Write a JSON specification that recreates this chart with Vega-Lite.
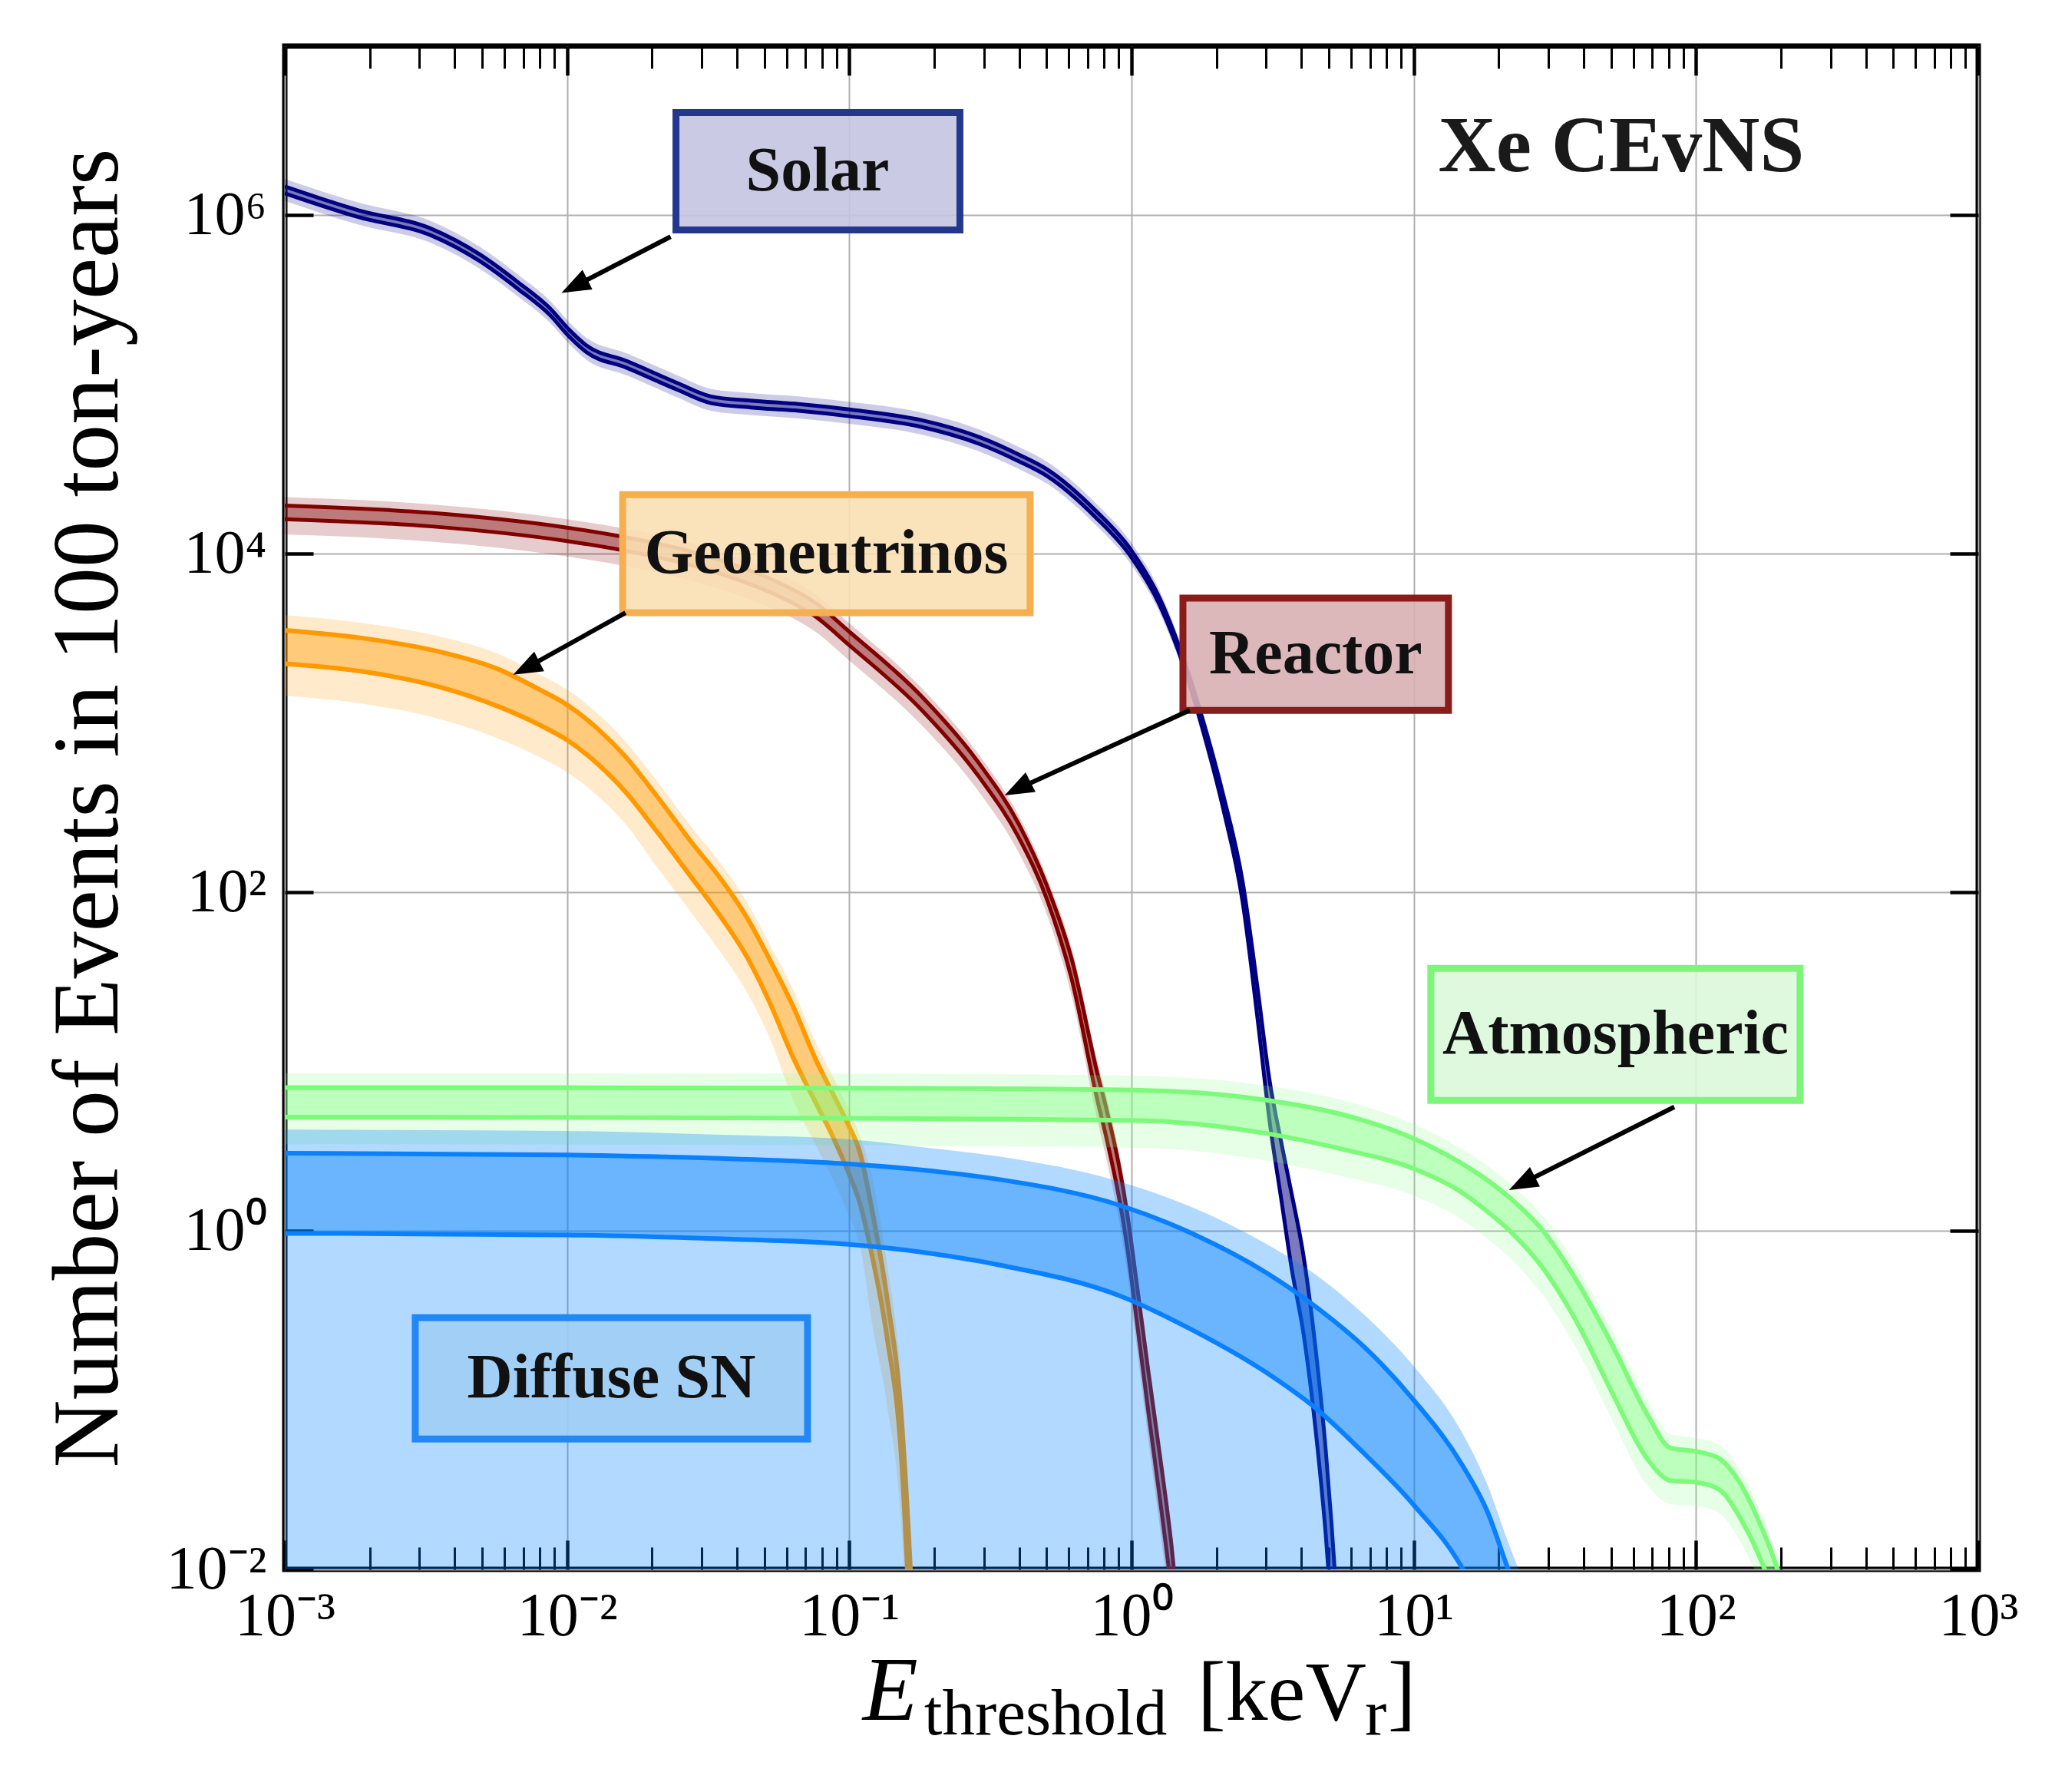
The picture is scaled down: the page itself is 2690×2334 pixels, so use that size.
{
  "$schema": "https://vega.github.io/schema/vega-lite/v6.json",
  "width": 2206,
  "height": 1984,
  "autosize": "none",
  "padding": {"left": 371, "top": 60, "right": 113, "bottom": 290},
  "background": "white",
  "config": {"view": {"stroke": "black", "strokeWidth": 7}, "font": "Liberation Serif"},
  "datasets": {
    "solar": [
      {"E": 0.001, "hi": 1.479e6, "lo": 1.349e6, "ohi": 1.641e6, "olo": 1.216e6},
      {"E": 0.00182, "hi": 1.072e6, "lo": 9.772e5, "ohi": 1.189e6, "olo": 8.81e5},
      {"E": 0.003311, "hi": 8.318e5, "lo": 7.586e5, "ohi": 9.226e5, "olo": 6.839e5},
      {"E": 0.004898, "hi": 5.888e5, "lo": 5.37e5, "ohi": 6.531e5, "olo": 4.842e5},
      {"E": 0.006761, "hi": 3.981e5, "lo": 3.631e5, "ohi": 4.416e5, "olo": 3.273e5},
      {"E": 0.00871, "hi": 2.818e5, "lo": 2.57e5, "ohi": 3.126e5, "olo": 2.317e5},
      {"E": 0.01023, "hi": 2.089e5, "lo": 1.905e5, "ohi": 2.317e5, "olo": 1.718e5},
      {"E": 0.01175, "hi": 1.698e5, "lo": 1.549e5, "ohi": 1.884e5, "olo": 1.396e5},
      {"E": 0.01622, "hi": 1.38e5, "lo": 1.259e5, "ohi": 1.531e5, "olo": 1.135e5},
      {"E": 0.02455, "hi": 1.023e5, "lo": 9.333e4, "ohi": 1.135e5, "olo": 8.414e4},
      {"E": 0.03236, "hi": 8.511e4, "lo": 7.762e4, "ohi": 9.441e4, "olo": 6.998e4},
      {"E": 0.04467, "hi": 8.035e4, "lo": 7.328e4, "ohi": 8.913e4, "olo": 6.607e4},
      {"E": 0.06607, "hi": 7.674e4, "lo": 6.998e4, "ohi": 8.511e4, "olo": 6.31e4},
      {"E": 0.1, "hi": 7.129e4, "lo": 6.501e4, "ohi": 7.907e4, "olo": 5.861e4},
      {"E": 0.1799, "hi": 6.166e4, "lo": 5.623e4, "ohi": 6.839e4, "olo": 5.07e4},
      {"E": 0.2904, "hi": 4.875e4, "lo": 4.446e4, "ohi": 5.408e4, "olo": 4.009e4},
      {"E": 0.3981, "hi": 3.864e4, "lo": 3.524e4, "ohi": 4.285e4, "olo": 3.177e4},
      {"E": 0.5012, "hi": 3.162e4, "lo": 2.884e4, "ohi": 3.508e4, "olo": 2.6e4},
      {"E": 0.7464, "hi": 1.799e4, "lo": 1.641e4, "ohi": 1.995e4, "olo": 1.479e4},
      {"E": 0.9886, "hi": 1.072e4, "lo": 9772, "ohi": 1.189e4, "olo": 8810},
      {"E": 1.256, "hi": 5495, "lo": 5012, "ohi": 6095, "olo": 4519},
      {"E": 1.535, "hi": 2344, "lo": 2138, "ohi": 2600, "olo": 1928},
      {"E": 1.799, "hi": 1012, "lo": 881, "ohi": 1135, "olo": 785.2},
      {"E": 2.109, "hi": 380.2, "lo": 316.2, "ohi": 426.6, "olo": 281.8},
      {"E": 2.477, "hi": 114.8, "lo": 87.1, "ohi": 128.8, "olo": 77.62},
      {"E": 2.793, "hi": 27.54, "lo": 18.2, "ohi": 30.9, "olo": 16.22},
      {"E": 3.083, "hi": 7.762, "lo": 4.467, "ohi": 8.71, "olo": 3.981},
      {"E": 3.404, "hi": 3.236, "lo": 1.479, "ohi": 3.631, "olo": 1.318},
      {"E": 3.69, "hi": 1.66, "lo": 0.6026, "ohi": 1.905, "olo": 0.5248},
      {"E": 4.074, "hi": 0.6998, "lo": 0.2427, "ohi": 0.8222, "olo": 0.2065},
      {"E": 4.508, "hi": 0.1888, "lo": 0.06252, "ohi": 0.227, "olo": 0.052},
      {"E": 4.875, "hi": 0.05093, "lo": 0.01611, "ohi": 0.06266, "olo": 0.01309},
      {"E": 5.117, "hi": 0.0182, "lo": 0.005495, "ohi": 0.02291, "olo": 0.004365},
      {"E": 5.309, "hi": 0.007413, "lo": 0.002138, "ohi": 0.00955, "olo": 0.00166}
    ],
    "reactor": [
      {"E": 0.001, "hi": 1.928e4, "lo": 1.603e4, "ohi": 2.163e4, "olo": 1.303e4},
      {"E": 0.003311, "hi": 1.746e4, "lo": 1.452e4, "ohi": 1.959e4, "olo": 1.18e4},
      {"E": 0.01, "hi": 1.429e4, "lo": 1.189e4, "ohi": 1.603e4, "olo": 9661},
      {"E": 0.01585, "hi": 1.259e4, "lo": 1.047e4, "ohi": 1.413e4, "olo": 8511},
      {"E": 0.02512, "hi": 1.072e4, "lo": 8913, "ohi": 1.202e4, "olo": 7244},
      {"E": 0.03981, "hi": 8511, "lo": 7079, "ohi": 9550, "olo": 5754},
      {"E": 0.05623, "hi": 6761, "lo": 5623, "ohi": 7586, "olo": 4571},
      {"E": 0.07586, "hi": 5129, "lo": 4266, "ohi": 5754, "olo": 3467},
      {"E": 0.1, "hi": 3467, "lo": 2884, "ohi": 3890, "olo": 2344},
      {"E": 0.1799, "hi": 1445, "lo": 1202, "ohi": 1622, "olo": 977.2},
      {"E": 0.2904, "hi": 568.9, "lo": 473.2, "ohi": 638.3, "olo": 384.6},
      {"E": 0.3972, "hi": 255.9, "lo": 212.8, "ohi": 287.1, "olo": 173},
      {"E": 0.5012, "hi": 109.6, "lo": 91.2, "ohi": 123, "olo": 74.13},
      {"E": 0.6124, "hi": 41.02, "lo": 31.12, "ohi": 47.1, "olo": 24.72},
      {"E": 0.7621, "hi": 8.128, "lo": 5.623, "ohi": 9.55, "olo": 4.266},
      {"E": 0.8091, "hi": 5.508, "lo": 3.724, "ohi": 6.546, "olo": 2.793},
      {"E": 0.9661, "hi": 1.259, "lo": 0.7943, "ohi": 1.514, "olo": 0.5754},
      {"E": 1.047, "hi": 0.4677, "lo": 0.2818, "ohi": 0.5754, "olo": 0.1995},
      {"E": 1.15, "hi": 0.1432, "lo": 0.08241, "ohi": 0.1762, "olo": 0.05702},
      {"E": 1.281, "hi": 0.03864, "lo": 0.02123, "ohi": 0.04753, "olo": 0.01436},
      {"E": 1.387, "hi": 0.01361, "lo": 0.007145, "ohi": 0.01714, "olo": 0.004721},
      {"E": 1.462, "hi": 0.005623, "lo": 0.002818, "ohi": 0.007079, "olo": 0.00182}
    ],
    "geo": [
      {"E": 0.001, "hi": 3532, "lo": 2244, "ohi": 4345, "olo": 1449},
      {"E": 0.001884, "hi": 3177, "lo": 2018, "ohi": 3908, "olo": 1303},
      {"E": 0.003565, "hi": 2630, "lo": 1629, "ohi": 3236, "olo": 1052},
      {"E": 0.005754, "hi": 2070, "lo": 1247, "ohi": 2547, "olo": 805.4},
      {"E": 0.007925, "hi": 1589, "lo": 981.7, "ohi": 1954, "olo": 633.9},
      {"E": 0.01, "hi": 1282, "lo": 794.3, "ohi": 1578, "olo": 512.9},
      {"E": 0.01279, "hi": 931.1, "lo": 576.8, "ohi": 1146, "olo": 372.4},
      {"E": 0.016, "hi": 641.2, "lo": 397.2, "ohi": 788.9, "olo": 256.4},
      {"E": 0.02065, "hi": 376.7, "lo": 232.8, "ohi": 463.4, "olo": 143.6},
      {"E": 0.02754, "hi": 198.6, "lo": 123, "ohi": 244.3, "olo": 75.86},
      {"E": 0.03556, "hi": 116.4, "lo": 69.18, "ohi": 143.2, "olo": 42.66},
      {"E": 0.04315, "hi": 72.11, "lo": 42.27, "ohi": 88.72, "olo": 26.06},
      {"E": 0.05224, "hi": 40.09, "lo": 22.34, "ohi": 49.32, "olo": 13.77},
      {"E": 0.06324, "hi": 21.18, "lo": 10.59, "ohi": 26.67, "olo": 5.957},
      {"E": 0.07656, "hi": 10.05, "lo": 5.585, "ohi": 12.65, "olo": 3.141},
      {"E": 0.0871, "hi": 6.546, "lo": 3.648, "ohi": 8.241, "olo": 2.051},
      {"E": 0.09886, "hi": 4.276, "lo": 2.254, "ohi": 5.383, "olo": 1.268},
      {"E": 0.1096, "hi": 2.818, "lo": 1.413, "ohi": 3.548, "olo": 0.7943},
      {"E": 0.1205, "hi": 1.318, "lo": 0.7079, "ohi": 2.089, "olo": 0.2818},
      {"E": 0.1358, "hi": 0.4111, "lo": 0.2399, "ohi": 0.6516, "olo": 0.0955},
      {"E": 0.1531, "hi": 0.0778, "lo": 0.04467, "ohi": 0.1233, "olo": 0.01778},
      {"E": 0.1641, "hi": 0.01122, "lo": 0.005012, "ohi": 0.01778, "olo": 0.001995},
      {"E": 0.1679, "hi": 0.005012, "lo": 0.002512, "ohi": 0.007943, "olo": 0.001}
    ],
    "atmos": [
      {"E": 0.001, "hi": 7.015, "lo": 4.699, "ohi": 8.531, "olo": 3.251},
      {"E": 0.01, "hi": 7.015, "lo": 4.677, "ohi": 8.531, "olo": 3.236},
      {"E": 0.1, "hi": 6.966, "lo": 4.624, "ohi": 8.472, "olo": 3.199},
      {"E": 0.3388, "hi": 6.918, "lo": 4.571, "ohi": 8.414, "olo": 3.162},
      {"E": 1.122, "hi": 6.761, "lo": 4.467, "ohi": 8.222, "olo": 3.09},
      {"E": 3.02, "hi": 5.916, "lo": 3.758, "ohi": 7.194, "olo": 2.6},
      {"E": 5.495, "hi": 4.898, "lo": 3.055, "ohi": 5.957, "olo": 2.113},
      {"E": 10, "hi": 3.508, "lo": 2.328, "ohi": 4.266, "olo": 1.611},
      {"E": 14.39, "hi": 2.57, "lo": 1.738, "ohi": 3.126, "olo": 1.202},
      {"E": 18.2, "hi": 1.995, "lo": 1.303, "ohi": 2.427, "olo": 0.9016},
      {"E": 21.88, "hi": 1.567, "lo": 1.0, "ohi": 1.905, "olo": 0.6918},
      {"E": 28.97, "hi": 0.9817, "lo": 0.5888, "ohi": 1.194, "olo": 0.4074},
      {"E": 38.28, "hi": 0.4887, "lo": 0.2786, "ohi": 0.5943, "olo": 0.1928},
      {"E": 50.58, "hi": 0.2109, "lo": 0.1096, "ohi": 0.2564, "olo": 0.07586},
      {"E": 66.99, "hi": 0.08299, "lo": 0.04529, "ohi": 0.1009, "olo": 0.03162},
      {"E": 81.47, "hi": 0.052, "lo": 0.03342, "ohi": 0.06252, "olo": 0.02421},
      {"E": 100.5, "hi": 0.04966, "lo": 0.03266, "ohi": 0.0597, "olo": 0.02366},
      {"E": 120.5, "hi": 0.04529, "lo": 0.02972, "ohi": 0.05445, "olo": 0.02153},
      {"E": 142.6, "hi": 0.03266, "lo": 0.02046, "ohi": 0.03926, "olo": 0.01483},
      {"E": 168.3, "hi": 0.01866, "lo": 0.01175, "ohi": 0.02244, "olo": 0.008511},
      {"E": 193.6, "hi": 0.01019, "lo": 0.00631, "ohi": 0.01225, "olo": 0.004571},
      {"E": 213.8, "hi": 0.005623, "lo": 0.003548, "ohi": 0.006761, "olo": 0.00257}
    ],
    "diffuse": [
      {"E": 0.001, "hi": 2.877, "lo": 0.9661, "ohi": 3.963},
      {"E": 0.01, "hi": 2.805, "lo": 0.9462, "ohi": 3.89},
      {"E": 0.03162, "hi": 2.692, "lo": 0.9016, "ohi": 3.715},
      {"E": 0.1, "hi": 2.483, "lo": 0.8318, "ohi": 3.467},
      {"E": 0.1799, "hi": 2.291, "lo": 0.7499, "ohi": 3.126},
      {"E": 0.336, "hi": 2.018, "lo": 0.631, "ohi": 2.754},
      {"E": 0.912, "hi": 1.413, "lo": 0.4121, "ohi": 1.95},
      {"E": 1.66, "hi": 0.955, "lo": 0.257, "ohi": 1.365},
      {"E": 3.02, "hi": 0.5623, "lo": 0.1445, "ohi": 0.8318},
      {"E": 4.508, "hi": 0.3548, "lo": 0.08913, "ohi": 0.5495},
      {"E": 6.714, "hi": 0.2042, "lo": 0.04786, "ohi": 0.3162},
      {"E": 10, "hi": 0.1, "lo": 0.02399, "ohi": 0.1585},
      {"E": 14.93, "hi": 0.04074, "lo": 0.01, "ohi": 0.0631},
      {"E": 18.24, "hi": 0.02188, "lo": 0.005012, "ohi": 0.03162},
      {"E": 21.38, "hi": 0.01047, "lo": 0.002512, "ohi": 0.01514},
      {"E": 25.12, "hi": 0.005012, "lo": 0.001259, "ohi": 0.007586}
    ],
    "boxes": [
      {"label": "Solar", "x1": 0.02432, "x2": 0.2466, "y1": 4.055e6, "y2": 8.185e5, "tx": 0.07717, "ty": 1.82e6},
      {"label": "Geoneutrinos", "x1": 0.01574, "x2": 0.4372, "y1": 2.239e4, "y2": 4487, "tx": 0.08292, "ty": 1.0e4},
      {"label": "Reactor", "x1": 1.521, "x2": 13.27, "y1": 5470, "y2": 1189, "tx": 4.493, "ty": 2550},
      {"label": "Atmospheric", "x1": 11.49, "x2": 233.6, "y1": 35.56, "y2": 5.894, "tx": 51.82, "ty": 14.47},
      {"label": "Diffuse SN", "x1": 0.002899, "x2": 0.07112, "y1": 0.3065, "y2": 0.05882, "tx": 0.01436, "ty": 0.1343}
    ],
    "arrows": [
      {"x0": 0.02328, "y0": 7.482e5, "x1": 0.0104, "y1": 3.741e5},
      {"x0": 0.01611, "y0": 4487, "x1": 0.007015, "y1": 2075},
      {"x0": 1.609, "y0": 1191, "x1": 0.3864, "y1": 401.8},
      {"x0": 83.75, "y0": 5.395, "x1": 23.66, "y1": 1.871}
    ],
    "xtitle": [
      {"t": "E", "role": "symbol", "E": 0.1116, "N": 1.285e-3},
      {"t": "threshold", "role": "sub", "E": 0.1842, "N": 1.064e-3},
      {"t": "[keV", "role": "unit", "E": 1.713, "N": 1.285e-3},
      {"t": "r", "role": "sub", "E": 6.708, "N": 1.064e-3},
      {"t": "]", "role": "unit", "E": 8.091, "N": 1.285e-3}
    ]
  },
  "encoding": {
    "x": {"field": "E", "type": "quantitative", "scale": {"type": "log", "domain": [0.001, 1000]}, "axis": null}
  },
  "layer": [
    {
      "data": {"values": [{"E": 1, "N": 1}]},
      "mark": {"type": "point", "opacity": 0},
      "encoding": {
        "x": {"field": "E", "type": "quantitative", "scale": {"type": "log", "domain": [0.001, 1000]},
          "axis": {"orient": "bottom", "values": [0.001, 0.01, 0.1, 1, 10, 100, 1000],
            "labelExpr": "datum.value < 0.005 ? '10⁻³' : datum.value < 0.05 ? '10⁻²' : datum.value < 0.5 ? '10⁻¹' : datum.value < 5 ? '10⁰' : datum.value < 50 ? '10¹' : datum.value < 500 ? '10²' : '10³'",
            "labelFont": "Liberation Serif", "labelFontSize": 80, "labelColor": "black", "labelPadding": 22,
            "labelFlush": false, "labelOverlap": false, "labelBound": false,
            "ticks": false, "domain": false, "grid": true, "gridColor": "#b0b0b0", "gridWidth": 2, "title": null}},
        "y": {"field": "N", "type": "quantitative", "scale": {"type": "log", "domain": [0.01, 1e7]},
          "axis": {"orient": "left", "values": [0.01, 1, 100, 10000, 1000000],
            "labelExpr": "datum.value < 0.05 ? '10⁻²' : datum.value < 5 ? '10⁰' : datum.value < 500 ? '10²' : datum.value < 50000 ? '10⁴' : '10⁶'",
            "labelFont": "Liberation Serif", "labelFontSize": 80, "labelColor": "black", "labelPadding": 24,
            "labelFlush": false, "labelOverlap": false, "labelBound": false,
            "ticks": false, "domain": false, "grid": true, "gridColor": "#b0b0b0", "gridWidth": 2,
            "title": "Number of Events in 100 ton-years", "titleFont": "Liberation Serif", "titleFontSize": 122,
            "titleFontWeight": "normal", "titleColor": "black", "titlePadding": 38}}
      }
    },
    {
      "data": {"values": [{"E": 1, "N": 1}]},
      "mark": {"type": "point", "opacity": 0},
      "encoding": {
        "x": {"field": "E", "type": "quantitative", "scale": {"type": "log", "domain": [0.001, 1000]},
          "axis": {"orient": "bottom", "values": [0.001, 0.01, 0.1, 1, 10, 100, 1000], "labels": false, "grid": false, "domain": false,
            "ticks": true, "tickSize": -38, "tickWidth": 4.5, "tickColor": "black", "title": null}},
        "y": {"field": "N", "type": "quantitative", "scale": {"type": "log", "domain": [0.01, 1e7]},
          "axis": {"orient": "left", "values": [0.01, 1, 100, 10000, 1000000], "labels": false, "grid": false, "domain": false,
            "ticks": true, "tickSize": -37, "tickWidth": 4.5, "tickColor": "black", "title": null}}
      }
    },
    {
      "data": {"values": [{"E": 1, "N": 1}]},
      "mark": {"type": "point", "opacity": 0},
      "encoding": {
        "x": {"field": "E", "type": "quantitative", "scale": {"type": "log", "domain": [0.001, 1000]},
          "axis": {"orient": "bottom", "values": [0.002, 0.003, 0.004, 0.005, 0.006, 0.007, 0.008, 0.009, 0.02, 0.03, 0.04, 0.05, 0.06, 0.07, 0.08, 0.09, 0.2, 0.3, 0.4, 0.5, 0.6, 0.7, 0.8, 0.9, 2, 3, 4, 5, 6, 7, 8, 9, 20, 30, 40, 50, 60, 70, 80, 90, 200, 300, 400, 500, 600, 700, 800, 900],
            "labels": false, "grid": false, "domain": false, "ticks": true, "tickSize": -29, "tickWidth": 3, "tickColor": "black", "title": null}},
        "y": {"field": "N", "type": "quantitative", "scale": {"type": "log", "domain": [0.01, 1e7]},
          "axis": {"orient": "right", "values": [0.01, 1, 100, 10000, 1000000], "labels": false, "grid": false, "domain": false,
            "ticks": true, "tickSize": -37, "tickWidth": 4.5, "tickColor": "black", "title": null}}
      }
    },
    {
      "data": {"values": [{"E": 1, "N": 1}]},
      "mark": {"type": "point", "opacity": 0},
      "encoding": {
        "x": {"field": "E", "type": "quantitative", "scale": {"type": "log", "domain": [0.001, 1000]},
          "axis": {"orient": "top", "values": [0.001, 0.01, 0.1, 1, 10, 100, 1000], "labels": false, "grid": false, "domain": false,
            "ticks": true, "tickSize": -38, "tickWidth": 4.5, "tickColor": "black", "title": null}},
        "y": {"field": "N", "type": "quantitative", "scale": {"type": "log", "domain": [0.01, 1e7]}, "axis": null}
      }
    },
    {
      "data": {"values": [{"E": 1, "N": 1}]},
      "mark": {"type": "point", "opacity": 0},
      "encoding": {
        "x": {"field": "E", "type": "quantitative", "scale": {"type": "log", "domain": [0.001, 1000]},
          "axis": {"orient": "top", "values": [0.002, 0.003, 0.004, 0.005, 0.006, 0.007, 0.008, 0.009, 0.02, 0.03, 0.04, 0.05, 0.06, 0.07, 0.08, 0.09, 0.2, 0.3, 0.4, 0.5, 0.6, 0.7, 0.8, 0.9, 2, 3, 4, 5, 6, 7, 8, 9, 20, 30, 40, 50, 60, 70, 80, 90, 200, 300, 400, 500, 600, 700, 800, 900],
            "labels": false, "grid": false, "domain": false, "ticks": true, "tickSize": -29, "tickWidth": 3, "tickColor": "black", "title": null}},
        "y": {"field": "N", "type": "quantitative", "scale": {"type": "log", "domain": [0.01, 1e7]}, "axis": null}
      }
    },
    {
      "data": {"name": "solar"},
      "layer": [
        {"mark": {"type": "area", "color": "#000080", "opacity": 0.2, "clip": true, "interpolate": "monotone"},
          "encoding": {"y": {"field": "ohi", "type": "quantitative", "scale": {"type": "log", "domain": [0.01, 1e7]}, "axis": null}, "y2": {"field": "olo"}}},
        {"mark": {"type": "area", "color": "#000080", "opacity": 0.4, "clip": true, "interpolate": "monotone"},
          "encoding": {"y": {"field": "hi", "type": "quantitative", "scale": {"type": "log", "domain": [0.01, 1e7]}, "axis": null}, "y2": {"field": "lo"}}},
        {"mark": {"type": "line", "color": "#000080", "strokeWidth": 5, "clip": true, "interpolate": "monotone"},
          "encoding": {"y": {"field": "hi", "type": "quantitative", "scale": {"type": "log", "domain": [0.01, 1e7]}, "axis": null}}},
        {"mark": {"type": "line", "color": "#000080", "strokeWidth": 5, "clip": true, "interpolate": "monotone"},
          "encoding": {"y": {"field": "lo", "type": "quantitative", "scale": {"type": "log", "domain": [0.01, 1e7]}, "axis": null}}}
      ]
    },
    {
      "data": {"name": "reactor"},
      "layer": [
        {"mark": {"type": "area", "color": "#800000", "opacity": 0.2, "clip": true, "interpolate": "monotone"},
          "encoding": {"y": {"field": "ohi", "type": "quantitative", "scale": {"type": "log", "domain": [0.01, 1e7]}, "axis": null}, "y2": {"field": "olo"}}},
        {"mark": {"type": "area", "color": "#800000", "opacity": 0.4, "clip": true, "interpolate": "monotone"},
          "encoding": {"y": {"field": "hi", "type": "quantitative", "scale": {"type": "log", "domain": [0.01, 1e7]}, "axis": null}, "y2": {"field": "lo"}}},
        {"mark": {"type": "line", "color": "#800000", "strokeWidth": 5, "clip": true, "interpolate": "monotone"},
          "encoding": {"y": {"field": "hi", "type": "quantitative", "scale": {"type": "log", "domain": [0.01, 1e7]}, "axis": null}}},
        {"mark": {"type": "line", "color": "#800000", "strokeWidth": 5, "clip": true, "interpolate": "monotone"},
          "encoding": {"y": {"field": "lo", "type": "quantitative", "scale": {"type": "log", "domain": [0.01, 1e7]}, "axis": null}}}
      ]
    },
    {
      "data": {"name": "geo"},
      "layer": [
        {"mark": {"type": "area", "color": "#ff9900", "opacity": 0.2, "clip": true, "interpolate": "monotone"},
          "encoding": {"y": {"field": "ohi", "type": "quantitative", "scale": {"type": "log", "domain": [0.01, 1e7]}, "axis": null}, "y2": {"field": "olo"}}},
        {"mark": {"type": "area", "color": "#ff9900", "opacity": 0.4, "clip": true, "interpolate": "monotone"},
          "encoding": {"y": {"field": "hi", "type": "quantitative", "scale": {"type": "log", "domain": [0.01, 1e7]}, "axis": null}, "y2": {"field": "lo"}}},
        {"mark": {"type": "line", "color": "#ff9900", "strokeWidth": 6, "clip": true, "interpolate": "monotone"},
          "encoding": {"y": {"field": "hi", "type": "quantitative", "scale": {"type": "log", "domain": [0.01, 1e7]}, "axis": null}}},
        {"mark": {"type": "line", "color": "#ff9900", "strokeWidth": 6, "clip": true, "interpolate": "monotone"},
          "encoding": {"y": {"field": "lo", "type": "quantitative", "scale": {"type": "log", "domain": [0.01, 1e7]}, "axis": null}}}
      ]
    },
    {
      "data": {"name": "atmos"},
      "layer": [
        {"mark": {"type": "area", "color": "#80ff80", "opacity": 0.2, "clip": true, "interpolate": "monotone"},
          "encoding": {"y": {"field": "ohi", "type": "quantitative", "scale": {"type": "log", "domain": [0.01, 1e7]}, "axis": null}, "y2": {"field": "olo"}}},
        {"mark": {"type": "area", "color": "#80ff80", "opacity": 0.4, "clip": true, "interpolate": "monotone"},
          "encoding": {"y": {"field": "hi", "type": "quantitative", "scale": {"type": "log", "domain": [0.01, 1e7]}, "axis": null}, "y2": {"field": "lo"}}},
        {"mark": {"type": "line", "color": "#7dfa7a", "strokeWidth": 6, "clip": true, "interpolate": "monotone"},
          "encoding": {"y": {"field": "hi", "type": "quantitative", "scale": {"type": "log", "domain": [0.01, 1e7]}, "axis": null}}},
        {"mark": {"type": "line", "color": "#7dfa7a", "strokeWidth": 6, "clip": true, "interpolate": "monotone"},
          "encoding": {"y": {"field": "lo", "type": "quantitative", "scale": {"type": "log", "domain": [0.01, 1e7]}, "axis": null}}}
      ]
    },
    {
      "data": {"name": "diffuse"},
      "layer": [
        {"mark": {"type": "area", "color": "#0080ff", "opacity": 0.3, "clip": true, "interpolate": "monotone"},
          "encoding": {"y": {"field": "ohi", "type": "quantitative", "scale": {"type": "log", "domain": [0.01, 1e7]}, "axis": null}, "y2": {"datum": 0.0001}}},
        {"mark": {"type": "area", "color": "#0080ff", "opacity": 0.4, "clip": true, "interpolate": "monotone"},
          "encoding": {"y": {"field": "hi", "type": "quantitative", "scale": {"type": "log", "domain": [0.01, 1e7]}, "axis": null}, "y2": {"field": "lo"}}},
        {"mark": {"type": "line", "color": "#0a80ff", "strokeWidth": 6, "clip": true, "interpolate": "monotone"},
          "encoding": {"y": {"field": "hi", "type": "quantitative", "scale": {"type": "log", "domain": [0.01, 1e7]}, "axis": null}}},
        {"mark": {"type": "line", "color": "#0a80ff", "strokeWidth": 6, "clip": true, "interpolate": "monotone"},
          "encoding": {"y": {"field": "lo", "type": "quantitative", "scale": {"type": "log", "domain": [0.01, 1e7]}, "axis": null}}}
      ]
    },
    {
      "data": {"name": "boxes"},
      "mark": {"type": "rect", "strokeWidth": 9, "fillOpacity": 0.9},
      "encoding": {
        "x": {"field": "x1", "type": "quantitative", "scale": {"type": "log", "domain": [0.001, 1000]}, "axis": null},
        "x2": {"field": "x2"},
        "y": {"field": "y1", "type": "quantitative", "scale": {"type": "log", "domain": [0.01, 1e7]}, "axis": null},
        "y2": {"field": "y2"},
        "fill": {"field": "label", "type": "nominal", "legend": null,
          "scale": {"domain": ["Solar", "Geoneutrinos", "Reactor", "Atmospheric", "Diffuse SN"], "range": ["#c4c4e2", "#fadfb4", "#d8b0b2", "#dcf8dc", "#a0cdf5"]}},
        "stroke": {"field": "label", "type": "nominal", "legend": null,
          "scale": {"domain": ["Solar", "Geoneutrinos", "Reactor", "Atmospheric", "Diffuse SN"], "range": ["#23378c", "#f5af50", "#8b1c1c", "#7df57a", "#2288f5"]}}
      }
    },
    {
      "data": {"name": "boxes"},
      "mark": {"type": "text", "font": "Liberation Serif", "fontWeight": "bold", "fontSize": 82, "align": "center", "baseline": "middle", "color": "#111111"},
      "encoding": {
        "x": {"field": "tx", "type": "quantitative", "scale": {"type": "log", "domain": [0.001, 1000]}, "axis": null},
        "y": {"field": "ty", "type": "quantitative", "scale": {"type": "log", "domain": [0.01, 1e7]}, "axis": null},
        "text": {"field": "label"}
      }
    },
    {
      "data": {"name": "arrows"},
      "mark": {"type": "rule", "color": "black", "strokeWidth": 6, "strokeCap": "butt"},
      "encoding": {
        "x": {"field": "x0", "type": "quantitative", "scale": {"type": "log", "domain": [0.001, 1000]}, "axis": null},
        "y": {"field": "y0", "type": "quantitative", "scale": {"type": "log", "domain": [0.01, 1e7]}, "axis": null},
        "x2": {"field": "x1"},
        "y2": {"field": "y1"}
      }
    },
    {
      "data": {"name": "arrows"},
      "mark": {"type": "point", "shape": "M0.8,0L-1.2,-0.75L-1.2,0.75Z", "angle": 153, "size": 1444, "filled": true, "color": "black", "opacity": 1, "strokeWidth": 0},
      "encoding": {
        "x": {"field": "x1", "type": "quantitative", "scale": {"type": "log", "domain": [0.001, 1000]}, "axis": null},
        "y": {"field": "y1", "type": "quantitative", "scale": {"type": "log", "domain": [0.01, 1e7]}, "axis": null}
      }
    },
    {
      "data": {"values": [{"t": "Xe CEvNS", "E": 54.33, "N": 1.822e6}]},
      "mark": {"type": "text", "font": "Liberation Serif", "fontWeight": "bold", "fontSize": 104, "align": "center", "baseline": "alphabetic", "color": "#1a1a1a"},
      "encoding": {
        "y": {"field": "N", "type": "quantitative", "scale": {"type": "log", "domain": [0.01, 1e7]}, "axis": null},
        "text": {"field": "t"}
      }
    },
    {
      "data": {"name": "xtitle"},
      "transform": [{"filter": "datum.role == 'symbol'"}],
      "mark": {"type": "text", "font": "Liberation Serif", "fontStyle": "italic", "fontSize": 118, "align": "left", "baseline": "alphabetic", "color": "black"},
      "encoding": {
        "y": {"field": "N", "type": "quantitative", "scale": {"type": "log", "domain": [0.01, 1e7]}, "axis": null},
        "text": {"field": "t"}
      }
    },
    {
      "data": {"name": "xtitle"},
      "transform": [{"filter": "datum.role == 'unit'"}],
      "mark": {"type": "text", "font": "Liberation Serif", "fontSize": 110, "align": "left", "baseline": "alphabetic", "color": "black"},
      "encoding": {
        "y": {"field": "N", "type": "quantitative", "scale": {"type": "log", "domain": [0.01, 1e7]}, "axis": null},
        "text": {"field": "t"}
      }
    },
    {
      "data": {"name": "xtitle"},
      "transform": [{"filter": "datum.role == 'sub'"}],
      "mark": {"type": "text", "font": "Liberation Serif", "fontSize": 85, "align": "left", "baseline": "alphabetic", "color": "black"},
      "encoding": {
        "y": {"field": "N", "type": "quantitative", "scale": {"type": "log", "domain": [0.01, 1e7]}, "axis": null},
        "text": {"field": "t"}
      }
    }
  ],
  "resolve": {"axis": {"x": "independent", "y": "independent"}}
}
